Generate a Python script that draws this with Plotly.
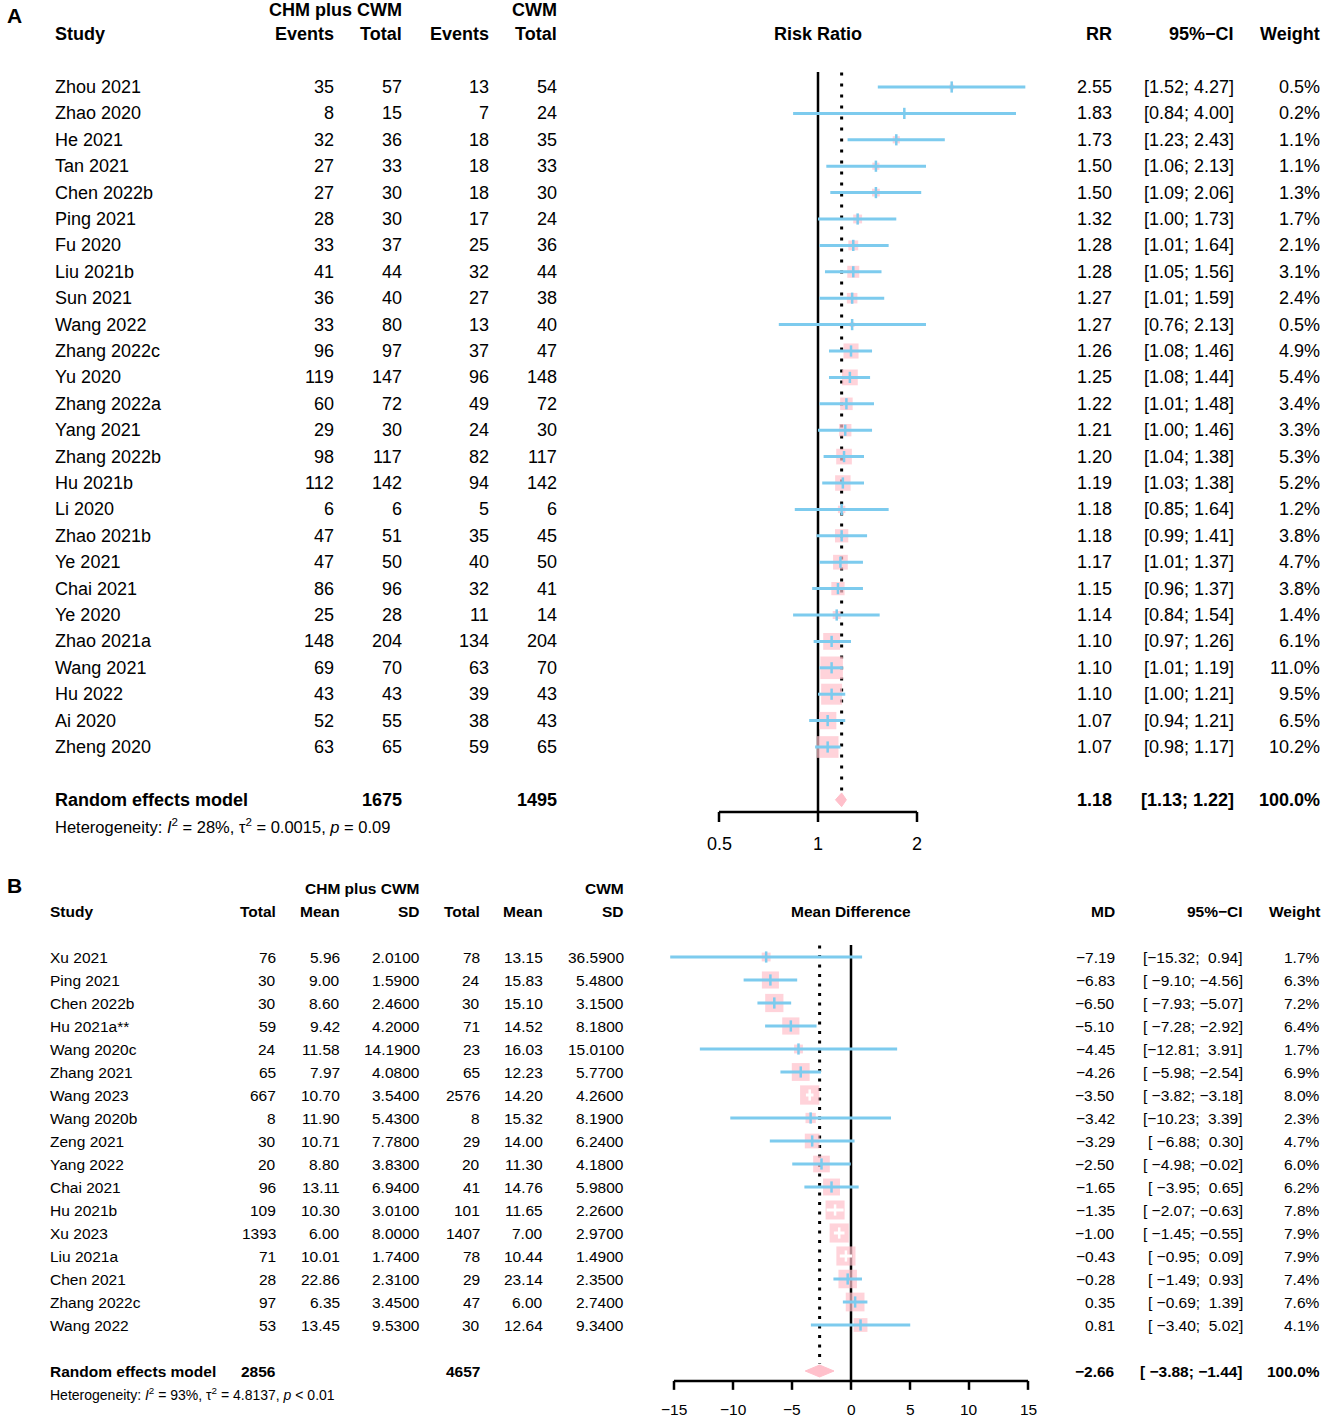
import math
import plotly.graph_objects as go

FONT = "Liberation Sans, Arial, sans-serif"
PINK = "#FFC0CB"
BLUE = "#7DCBEE"
W, H = 1325, 1417

# ---------------- panel A: risk ratio ----------------
a_study = ["Zhou 2021", "Zhao 2020", "He 2021", "Tan 2021", "Chen 2022b", "Ping 2021",
           "Fu 2020", "Liu 2021b", "Sun 2021", "Wang 2022", "Zhang 2022c", "Yu 2020",
           "Zhang 2022a", "Yang 2021", "Zhang 2022b", "Hu 2021b", "Li 2020", "Zhao 2021b",
           "Ye 2021", "Chai 2021", "Ye 2020", "Zhao 2021a", "Wang 2021", "Hu 2022",
           "Ai 2020", "Zheng 2020"]
a_ev_e = [35, 8, 32, 27, 27, 28, 33, 41, 36, 33, 96, 119, 60, 29, 98, 112, 6, 47, 47, 86, 25, 148, 69, 43, 52, 63]
a_tot_e = [57, 15, 36, 33, 30, 30, 37, 44, 40, 80, 97, 147, 72, 30, 117, 142, 6, 51, 50, 96, 28, 204, 70, 43, 55, 65]
a_ev_c = [13, 7, 18, 18, 18, 17, 25, 32, 27, 13, 37, 96, 49, 24, 82, 94, 5, 35, 40, 32, 11, 134, 63, 39, 38, 59]
a_tot_c = [54, 24, 35, 33, 30, 24, 36, 44, 38, 40, 47, 148, 72, 30, 117, 142, 6, 45, 50, 41, 14, 204, 70, 43, 43, 65]
a_rr = [2.55, 1.83, 1.73, 1.50, 1.50, 1.32, 1.28, 1.28, 1.27, 1.27, 1.26, 1.25, 1.22, 1.21,
        1.20, 1.19, 1.18, 1.18, 1.17, 1.15, 1.14, 1.10, 1.10, 1.10, 1.07, 1.07]
a_lo = [1.52, 0.84, 1.23, 1.06, 1.09, 1.00, 1.01, 1.05, 1.01, 0.76, 1.08, 1.08, 1.01, 1.00,
        1.04, 1.03, 0.85, 0.99, 1.01, 0.96, 0.84, 0.97, 1.01, 1.00, 0.94, 0.98]
a_hi = [4.27, 4.00, 2.43, 2.13, 2.06, 1.73, 1.64, 1.56, 1.59, 2.13, 1.46, 1.44, 1.48, 1.46,
        1.38, 1.38, 1.64, 1.41, 1.37, 1.37, 1.54, 1.26, 1.19, 1.21, 1.21, 1.17]
a_w = [0.5, 0.2, 1.1, 1.1, 1.3, 1.7, 2.1, 3.1, 2.4, 0.5, 4.9, 5.4, 3.4, 3.3, 5.3, 5.2, 1.2,
       3.8, 4.7, 3.8, 1.4, 6.1, 11.0, 9.5, 6.5, 10.2]
a_pooled = [1.18, 1.13, 1.22]
a_totals = [1675, 1495]
a_het = "Heterogeneity: <i>I</i><sup>2</sup> = 28%, τ<sup>2</sup> = 0.0015, <i>p</i> = 0.09"
a_ticks = [0.5, 1, 2]
a_tick_labels = ["0.5", "1", "2"]

# ---------------- panel B: mean difference ----------------
b_study = ["Xu 2021", "Ping 2021", "Chen 2022b", "Hu 2021a**", "Wang 2020c", "Zhang 2021",
           "Wang 2023", "Wang 2020b", "Zeng 2021", "Yang 2022", "Chai 2021", "Hu 2021b",
           "Xu 2023", "Liu 2021a", "Chen 2021", "Zhang 2022c", "Wang 2022"]
b_tot_e = [76, 30, 30, 59, 24, 65, 667, 8, 30, 20, 96, 109, 1393, 71, 28, 97, 53]
b_mean_e = [5.96, 9.00, 8.60, 9.42, 11.58, 7.97, 10.70, 11.90, 10.71, 8.80, 13.11, 10.30,
            6.00, 10.01, 22.86, 6.35, 13.45]
b_sd_e = [2.01, 1.59, 2.46, 4.20, 14.19, 4.08, 3.54, 5.43, 7.78, 3.83, 6.94, 3.01, 8.00,
          1.74, 2.31, 3.45, 9.53]
b_tot_c = [78, 24, 30, 71, 23, 65, 2576, 8, 29, 20, 41, 101, 1407, 78, 29, 47, 30]
b_mean_c = [13.15, 15.83, 15.10, 14.52, 16.03, 12.23, 14.20, 15.32, 14.00, 11.30, 14.76,
            11.65, 7.00, 10.44, 23.14, 6.00, 12.64]
b_sd_c = [36.59, 5.48, 3.15, 8.18, 15.01, 5.77, 4.26, 8.19, 6.24, 4.18, 5.98, 2.26, 2.97,
          1.49, 2.35, 2.74, 9.34]
b_md = [-7.19, -6.83, -6.50, -5.10, -4.45, -4.26, -3.50, -3.42, -3.29, -2.50, -1.65, -1.35,
        -1.00, -0.43, -0.28, 0.35, 0.81]
b_lo = [-15.32, -9.10, -7.93, -7.28, -12.81, -5.98, -3.82, -10.23, -6.88, -4.98, -3.95,
        -2.07, -1.45, -0.95, -1.49, -0.69, -3.40]
b_hi = [0.94, -4.56, -5.07, -2.92, 3.91, -2.54, -3.18, 3.39, 0.30, -0.02, 0.65, -0.63,
        -0.55, 0.09, 0.93, 1.39, 5.02]
b_w = [1.7, 6.3, 7.2, 6.4, 1.7, 6.9, 8.0, 2.3, 4.7, 6.0, 6.2, 7.8, 7.9, 7.9, 7.4, 7.6, 4.1]
b_pooled = [-2.66, -3.88, -1.44]
b_totals = [2856, 4657]
b_het = "Heterogeneity: <i>I</i><sup>2</sup> = 93%, τ<sup>2</sup> = 4.8137, <i>p</i> < 0.01"
b_ticks = [-15, -10, -5, 0, 5, 10, 15]
b_tick_labels = ["\u221215", "\u221210", "\u22125", "0", "5", "10", "15"]


def num(v, d=2):
    return f"{v:.{d}f}".replace("-", "\u2212")


def ci_labels(lo, hi):
    ls = [num(v) for v in lo]
    hs = [num(v) for v in hi]
    wl = max(len(s) for s in ls)
    wh = max(len(s) for s in hs)
    return ["[" + "\u00a0" * (wl - len(a)) + a + ";\u00a0" + "\u00a0" * (wh - len(b)) + b + "]"
            for a, b in zip(ls, hs)]


fig = go.Figure()
ann = []


def txt(x, y, s, xref, yref, size, anchor="right", bold=False):
    ann.append(dict(x=x, y=y, xref=xref, yref=yref, text=f"<b>{s}</b>" if bold else s,
                    xanchor=anchor, yanchor="middle", showarrow=False,
                    font=dict(family=FONT, size=size, color="black")))


def forest(xr, yr, est, lo, hi, w, pooled, null, rows, axis_y, tick_len, px_width,
           ticks, tick_labels, tick_size, dot_dash, top, log=False):
    pooled_row = rows[-1] + 2
    # reference lines
    fig.add_trace(go.Scatter(x=[null, null], y=[top, axis_y], mode="lines",
                             line=dict(color="black", width=2.5),
                             xaxis=xr, yaxis=yr, hoverinfo="skip"))
    fig.add_trace(go.Scatter(x=[pooled[0]] * 2, y=[top + 0.02, pooled_row - 0.3],
                             mode="lines", line=dict(color="black", width=3, dash=dot_dash),
                             xaxis=xr, yaxis=yr, hoverinfo="skip"))
    sizes = [6.8 * v ** 0.5 for v in w]
    fig.add_trace(go.Scatter(x=est, y=rows, mode="markers",
                             marker=dict(symbol="square", size=sizes, color=PINK, line=dict(width=0)),
                             xaxis=xr, yaxis=yr, hoverinfo="skip"))
    inside = [px_width(l, h) < s for l, h, s in zip(lo, hi, sizes)]
    for flag, col in ((False, BLUE), (True, "white")):
        xs, ys, ex, ey = [], [], [], []
        for e, l, h, r, f in zip(est, lo, hi, rows, inside):
            if f == flag:
                xs += [l, h, None]
                ys += [r, r, None]
                ex.append(e)
                ey.append(r)
        if ex:
            fig.add_trace(go.Scatter(x=xs, y=ys, mode="lines", line=dict(color=col, width=3),
                                     xaxis=xr, yaxis=yr, hoverinfo="skip"))
            fig.add_trace(go.Scatter(x=ex, y=ey, mode="markers",
                                     marker=dict(symbol="line-ns-open", size=8, color=col,
                                                 line=dict(color=col, width=2.5)),
                                     xaxis=xr, yaxis=yr, hoverinfo="skip"))
    # pooled diamond
    p, pl, ph = pooled
    fig.add_trace(go.Scatter(x=[pl, p, ph, p, pl], y=[pooled_row, pooled_row - 0.26, pooled_row,
                                                       pooled_row + 0.26, pooled_row],
                             mode="lines", fill="toself", fillcolor=PINK,
                             line=dict(color=PINK, width=1), xaxis=xr, yaxis=yr, hoverinfo="skip"))
    # x axis drawn by hand (only between first and last tick)
    tx, ty = [ticks[0], ticks[-1], None], [axis_y, axis_y, None]
    for t in ticks:
        tx += [t, t, None]
        ty += [axis_y, axis_y + tick_len, None]
    fig.add_trace(go.Scatter(x=tx, y=ty, mode="lines", line=dict(color="black", width=2.5),
                             xaxis=xr, yaxis=yr, hoverinfo="skip"))
    for t, lab in zip(ticks, tick_labels):
        txt(math.log10(t) if log else t, axis_y + tick_len + 0.85, lab, xr, yr,
            tick_size, anchor="center")


# ---------- panel A drawing ----------
a_rows = list(range(1, len(a_study) + 1))
a_prow = a_rows[-1] + 2
forest("x3", "y", a_rr, a_lo, a_hi, a_w, a_pooled, 1, a_rows, a_prow + 0.46, 0.38,
       lambda l, h: 99 * math.log2(h / l), a_ticks, a_tick_labels, 18, "3px,8px", 0.43,
       log=True)

FA, FA_H = 18, 16.5
txt(5, -1.7, "A", "x", "y", 21, anchor="left", bold=True)
txt(404, -1.93, "CHM plus CWM", "x", "y", FA, bold=True)
txt(559, -1.93, "CWM", "x", "y", FA, bold=True)
txt(53, -1, "Study", "x", "y", FA, anchor="left", bold=True)
for xp, lab in ((336, "Events"), (404, "Total"), (491, "Events"), (559, "Total"),
                (1114, "RR"), (1236, "95%\u2212CI"), (1322, "Weight")):
    txt(xp, -1, lab, "x", "y", FA, bold=True)
txt(818, -1, "Risk Ratio", "x", "y", FA, anchor="center", bold=True)
a_ci = ci_labels(a_lo + [a_pooled[1]], a_hi + [a_pooled[2]])
for i, r in enumerate(a_rows):
    txt(53, r, a_study[i], "x", "y", FA, anchor="left")
    txt(336, r, str(a_ev_e[i]), "x", "y", FA)
    txt(404, r, str(a_tot_e[i]), "x", "y", FA)
    txt(491, r, str(a_ev_c[i]), "x", "y", FA)
    txt(559, r, str(a_tot_c[i]), "x", "y", FA)
    txt(1114, r, num(a_rr[i]), "x", "y", FA)
    txt(1236, r, a_ci[i], "x", "y", FA)
    txt(1322, r, f"{a_w[i]:.1f}%", "x", "y", FA)
txt(53, a_prow, "Random effects model", "x", "y", FA, anchor="left", bold=True)
txt(404, a_prow, str(a_totals[0]), "x", "y", FA, bold=True)
txt(559, a_prow, str(a_totals[1]), "x", "y", FA, bold=True)
txt(1114, a_prow, num(a_pooled[0]), "x", "y", FA, bold=True)
txt(1236, a_prow, a_ci[-1], "x", "y", FA, bold=True)
txt(1322, a_prow, "100.0%", "x", "y", FA, bold=True)
txt(53, a_prow + 1, a_het, "x", "y", FA_H, anchor="left")

# ---------- panel B drawing ----------
b_rows = list(range(1, len(b_study) + 1))
b_prow = b_rows[-1] + 2
forest("x4", "y2", b_md, b_lo, b_hi, b_w, b_pooled, 0, b_rows, b_prow + 0.43, 0.39,
       lambda l, h: 11.8 * (h - l), b_ticks, b_tick_labels, 15.5, "3px,6.5px", 0.48)

FB, FB_H = 15.5, 14
txt(5, -2.1, "B", "x2", "y2", 21, anchor="left", bold=True)
txt(422, -2, "CHM plus CWM", "x2", "y2", FB, bold=True)
txt(626, -2, "CWM", "x2", "y2", FB, bold=True)
txt(48, -1, "Study", "x2", "y2", FB, anchor="left", bold=True)
for xp, lab in ((278, "Total"), (342, "Mean"), (422, "SD"), (482, "Total"), (545, "Mean"),
                (626, "SD"), (1117, "MD"), (1245, "95%\u2212CI"), (1322, "Weight")):
    txt(xp, -1, lab, "x2", "y2", FB, bold=True)
txt(851, -1, "Mean Difference", "x2", "y2", FB, anchor="center", bold=True)
b_ci = ci_labels(b_lo + [b_pooled[1]], b_hi + [b_pooled[2]])
for i, r in enumerate(b_rows):
    txt(48, r, b_study[i], "x2", "y2", FB, anchor="left")
    txt(278, r, str(b_tot_e[i]), "x2", "y2", FB)
    txt(342, r, num(b_mean_e[i]), "x2", "y2", FB)
    txt(422, r, num(b_sd_e[i], 4), "x2", "y2", FB)
    txt(482, r, str(b_tot_c[i]), "x2", "y2", FB)
    txt(545, r, num(b_mean_c[i]), "x2", "y2", FB)
    txt(626, r, num(b_sd_c[i], 4), "x2", "y2", FB)
    txt(1117, r, num(b_md[i]), "x2", "y2", FB)
    txt(1245, r, b_ci[i], "x2", "y2", FB)
    txt(1322, r, f"{b_w[i]:.1f}%", "x2", "y2", FB)
txt(48, b_prow, "Random effects model", "x2", "y2", FB, anchor="left", bold=True)
txt(278, b_prow, str(b_totals[0]), "x2", "y2", FB, bold=True)
txt(482, b_prow, str(b_totals[1]), "x2", "y2", FB, bold=True)
txt(1117, b_prow, num(b_pooled[0]), "x2", "y2", FB, bold=True)
txt(1245, b_prow, b_ci[-1], "x2", "y2", FB, bold=True)
txt(1322, b_prow, "100.0%", "x2", "y2", FB, bold=True)
txt(48, b_prow + 1, b_het, "x2", "y2", FB_H, anchor="left")

# ---------- axes (pixel-calibrated) ----------
SPLIT = 879                      # pixel row where panel B begins
a_top, a_bot = 1 - 87 / 26.4, 1 + (SPLIT - 87) / 26.4
b_top, b_bot = 1 + (SPLIT - 957) / 23, 1 + (H - 957) / 23
k = math.log10(2) / 99           # log10 units per pixel in panel A
hidden = dict(visible=False, fixedrange=True)

fig.update_layout(
    width=W, height=H, margin=dict(l=0, r=0, t=0, b=0),
    paper_bgcolor="white", plot_bgcolor="white", showlegend=False,
    annotations=ann,
    xaxis=dict(domain=[0, 1], range=[0, W], anchor="y", **hidden),
    yaxis=dict(domain=[1 - SPLIT / H, 1], range=[a_bot, a_top], anchor="x", **hidden),
    xaxis2=dict(domain=[0, 1], range=[0, W], anchor="y2", **hidden),
    yaxis2=dict(domain=[0, 1 - SPLIT / H], range=[b_bot, b_top], anchor="x2", **hidden),
    xaxis3=dict(type="log", domain=[660 / W, 1060 / W],
                range=[(660 - 818) * k, (1060 - 818) * k], anchor="y", **hidden),
    xaxis4=dict(domain=[640 / W, 1060 / W],
                range=[(640 - 851) / 11.8, (1060 - 851) / 11.8], anchor="y2", **hidden),
)

fig.write_html("out.html", config={"displayModeBar": False},
               post_script="document.body.style.margin='0';")
